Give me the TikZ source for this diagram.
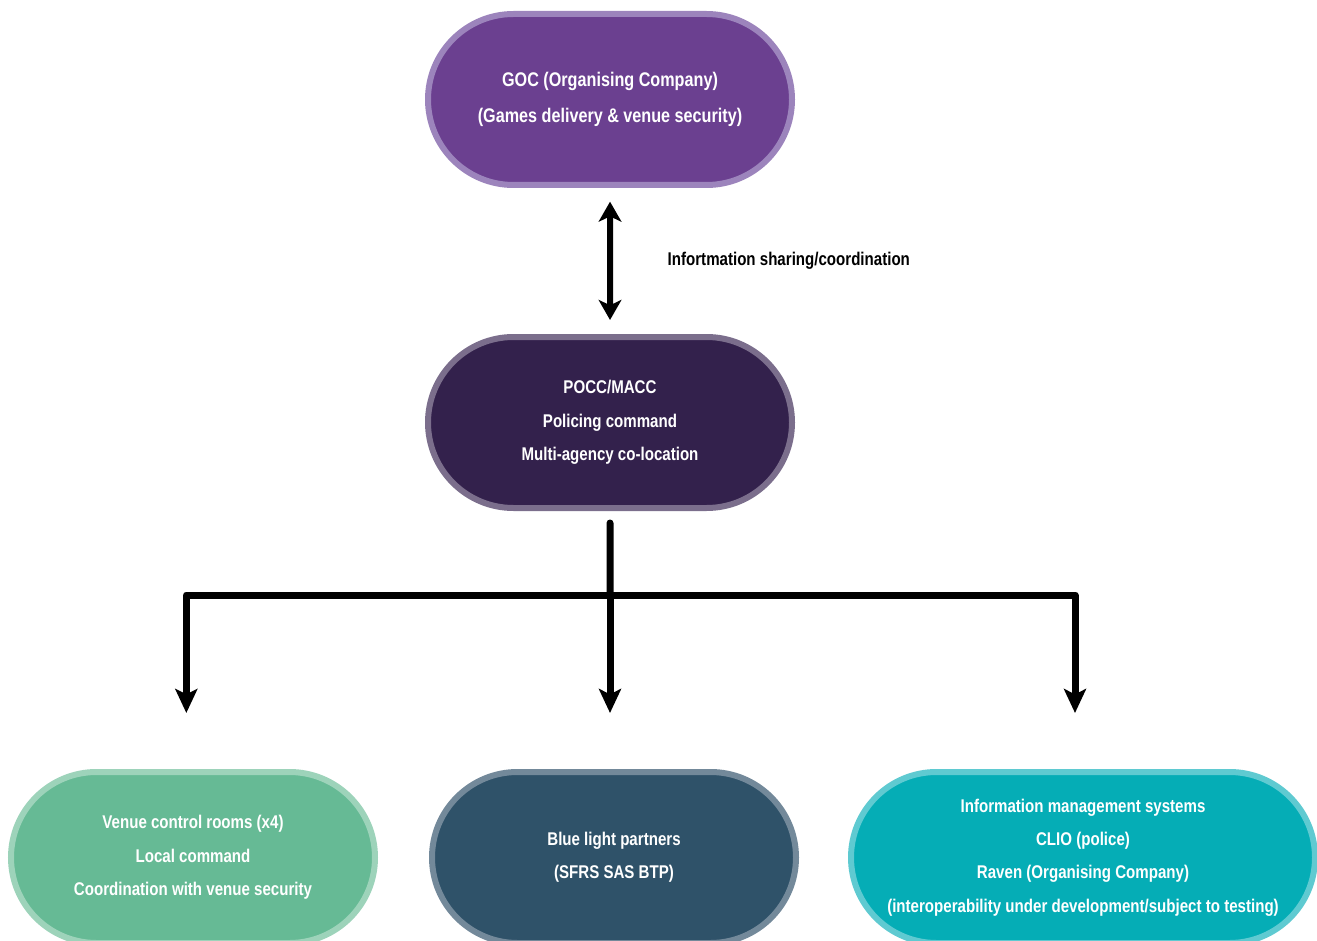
\documentclass[tikz,border=0pt]{standalone}
\usepackage{fontspec}
\setmainfont{Liberation Sans}[FakeStretch=0.82]
\usetikzlibrary{shapes.misc,arrows.meta}
\definecolor{gocdark}{HTML}{6B4090}
\definecolor{goclight}{HTML}{9C84BC}
\definecolor{poccdark}{HTML}{33214C}
\definecolor{pocclight}{HTML}{7B6E8C}
\definecolor{venuedark}{HTML}{66BA95}
\definecolor{venuelight}{HTML}{9DD3BA}
\definecolor{bluedark}{HTML}{2F5269}
\definecolor{bluelight}{HTML}{73899A}
\definecolor{infodark}{HTML}{05ADB6}
\definecolor{infolight}{HTML}{5FCAD1}
\begin{document}
\begin{tikzpicture} [x=0.75pt,y=-0.75pt,
	pill/.style 2 args={rounded rectangle,fill=#1,draw=#2,line width=4.5pt,inner sep=0pt,
		minimum height=128.25pt,minimum width=273pt,align=center,text=white,
		font=\fontsize{13.8}{25}\selectfont\bfseries},
	tree/.style={line width=5.25pt,line join=round,line cap=round,
		-{Stealth[length=18pt,width=16.5pt,inset=4pt]},shorten >=42pt}]
		\clip (0,0) rectangle (1317,941);
		\node [pill={gocdark}{goclight},font=\fontsize{14.8}{27}\selectfont\bfseries] (goc) at (610,99.5)
			{GOC (Organising Company)\\(Games delivery \& venue security)};
		\node [pill={poccdark}{pocclight}] (pocc) at (610,422.5)
			{POCC/MACC\\Policing command\\Multi-agency co-location};
		\node [pill={venuedark}{venuelight}] (venue) at (193,857.5)
			{Venue control rooms (x4)\\Local command\\Coordination with venue security};
		\node [pill={bluedark}{bluelight}] (blue) at (614,857.5)
			{Blue light partners\\(SFRS SAS BTP)};
		\node [pill={infodark}{infolight},minimum width=348pt] (info) at (1083,857.5)
			{Information management systems\\CLIO (police)\\Raven (Organising Company)\\(interoperability under development/subject to testing)};
		\draw [line width=4.5pt,{Stealth[length=15pt,width=17pt,inset=4pt]}-{Stealth[length=15pt,width=17pt,inset=4pt]},
			shorten <=10.25pt,shorten >=10.5pt] (goc) -- node [right,xshift=41pt,inner sep=0pt,
			font=\fontsize{13.8}{16}\selectfont\bfseries] (share) {Infortmation sharing/coordination} (pocc);
		\coordinate (hub) at (610,595);
		\draw [line width=5.25pt,line cap=round,shorten <=9pt] (pocc) -- (hub);
		\draw [tree] (hub) -| ([xshift=-5pt]venue.north);
		\draw [tree] (hub) -- (hub |- blue.north);
		\draw [tree] (hub) -| ([xshift=-6pt]info.north);
	\end{tikzpicture}
\end{document}
